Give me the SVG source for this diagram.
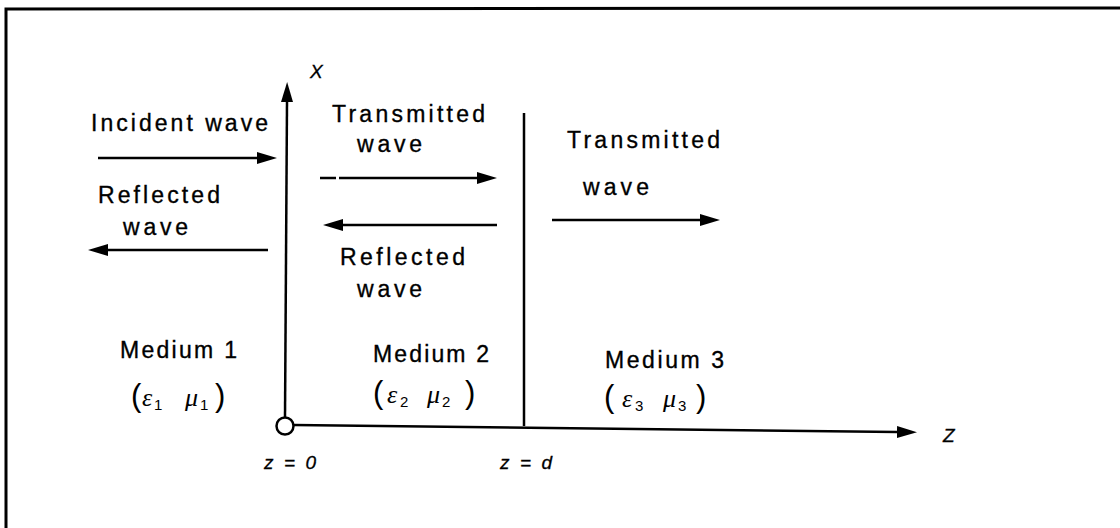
<svg xmlns="http://www.w3.org/2000/svg" width="1120" height="528" viewBox="0 0 1120 528">
<style>
.t{font-family:"Liberation Sans",Arial,sans-serif;font-size:23px;fill:#000;stroke:#000;stroke-width:0.35}
.i{font-family:"Liberation Sans",Arial,sans-serif;font-style:italic;font-size:19px;fill:#000;stroke:#000;stroke-width:0.3}
.p{font-family:"Liberation Sans",Arial,sans-serif;font-size:31px;fill:#000}
.g{font-family:"Liberation Serif","Times New Roman",serif;font-style:italic;font-size:26px;fill:#000}
.s{font-family:"Liberation Sans",Arial,sans-serif;font-size:15px;fill:#000}
.ln{stroke:#000;stroke-width:2.5;fill:none}
.fr{stroke:#000;stroke-width:3;fill:none}
</style>
<defs>
<marker id="ah" markerUnits="userSpaceOnUse" markerWidth="22" markerHeight="14" refX="0" refY="7" orient="auto">
<path d="M0,1 L20,7 L0,13 Z" fill="#000"/>
</marker>
</defs>
<rect width="1120" height="528" fill="#fff"/>
<g id="frame">
<path class="fr" d="M6,528 L6,9 L1120,8"/>
</g>
<g id="connectors">
<line id="x-axis" class="ln" x1="285" y1="418" x2="287" y2="102" marker-end="url(#ah)"/>
<line id="z-axis" class="ln" x1="294" y1="425" x2="897" y2="432" marker-end="url(#ah)"/>
<line id="boundary" class="ln" x1="524" y1="113" x2="524" y2="426"/>
<line id="incident" class="ln" x1="98" y1="158" x2="257" y2="158" marker-end="url(#ah)"/>
<line id="refl1" class="ln" x1="268" y1="250" x2="108" y2="250" marker-end="url(#ah)"/>
<line id="trans2" class="ln" x1="320" y1="178" x2="477" y2="178" stroke-dasharray="16 3 1000" marker-end="url(#ah)"/>
<line id="refl2" class="ln" x1="497" y1="225" x2="343" y2="225" marker-end="url(#ah)"/>
<line id="trans3" class="ln" x1="552" y1="220" x2="700" y2="220" marker-end="url(#ah)"/>
</g>
<g id="origin">
<circle cx="285" cy="426" r="8.5" fill="#fff" stroke="#000" stroke-width="2.5"/>
</g>
<g id="axis-labels">
<text class="i" x="310" y="78">X</text>
<text class="i" x="943" y="442">Z</text>
<text class="i" x="264" y="469" textLength="52" lengthAdjust="spacing">z = 0</text>
<text class="i" x="500" y="469" textLength="52" lengthAdjust="spacing">z = d</text>
</g>
<g id="medium1">
<text class="t" x="91" y="131" textLength="177" lengthAdjust="spacing">Incident  wave</text>
<text class="t" x="98" y="203" textLength="122" lengthAdjust="spacing">Reflected</text>
<text class="t" x="123" y="235" textLength="65" lengthAdjust="spacing">wave</text>
<text class="t" x="120" y="358" textLength="117" lengthAdjust="spacing">Medium 1</text>
<text y="406"><tspan class="p" x="131">(</tspan><tspan class="g" x="142">ε</tspan><tspan class="s" x="154" dy="4">1</tspan><tspan class="g" x="185" dy="-4">μ</tspan><tspan class="s" x="200" dy="4">1</tspan><tspan class="p" x="215" dy="-4">)</tspan></text>
</g>
<g id="medium2">
<text class="t" x="332" y="122" textLength="153" lengthAdjust="spacing">Transmitted</text>
<text class="t" x="357" y="152" textLength="65" lengthAdjust="spacing">wave</text>
<text class="t" x="340" y="265" textLength="125" lengthAdjust="spacing">Reflected</text>
<text class="t" x="357" y="297" textLength="65" lengthAdjust="spacing">wave</text>
<text class="t" x="373" y="362" textLength="116" lengthAdjust="spacing">Medium 2</text>
<text y="403"><tspan class="p" x="373">(</tspan><tspan class="g" x="387">ε</tspan><tspan class="s" x="400" dy="4">2</tspan><tspan class="g" x="427" dy="-4">μ</tspan><tspan class="s" x="442" dy="4">2</tspan><tspan class="p" x="465" dy="-4">)</tspan></text>
</g>
<g id="medium3">
<text class="t" x="567" y="148" textLength="153" lengthAdjust="spacing">Transmitted</text>
<text class="t" x="583" y="195" textLength="66" lengthAdjust="spacing">wave</text>
<text class="t" x="605" y="368" textLength="119" lengthAdjust="spacing">Medium 3</text>
<text y="407"><tspan class="p" x="604">(</tspan><tspan class="g" x="622">ε</tspan><tspan class="s" x="635" dy="4">3</tspan><tspan class="g" x="663" dy="-4">μ</tspan><tspan class="s" x="678" dy="4">3</tspan><tspan class="p" x="696" dy="-4">)</tspan></text>
</g>
</svg>
